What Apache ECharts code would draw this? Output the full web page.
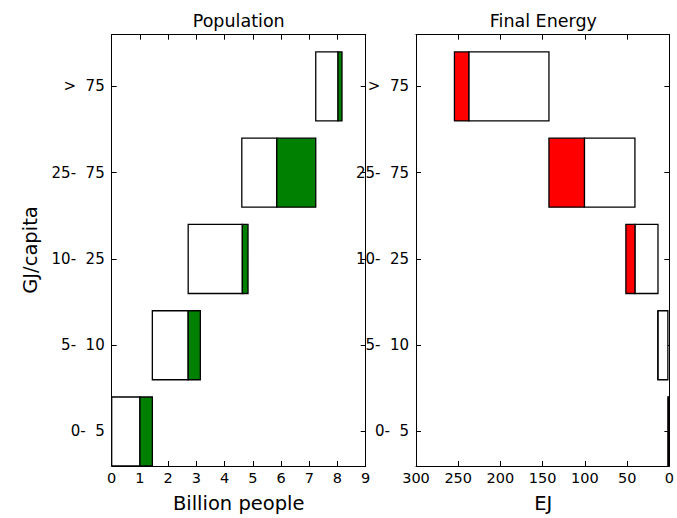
<!DOCTYPE html>
<html>
<head>
<meta charset="utf-8">
<script src="https://cdn.jsdelivr.net/npm/echarts@6/dist/echarts.min.js"></script>
<style>html,body{margin:0;padding:0;background:#fff}#c{width:677px;height:518px}</style>
</head>
<body>
<div id="c"></div>
<script>
var categories = ['0-  5', '5-  10', '10-  25', '25-  75', '>  75'];
var popTicks = [0, 1, 2, 3, 4, 5, 6, 7, 8, 9];
var enTicks = [0, 50, 100, 150, 200, 250, 300];
// Population (billion people): white box start, white/green boundary, green end
var popStart = [0, 1.44, 2.71, 4.61, 7.23];
var popMid   = [1.0, 2.71, 4.63, 5.85, 8.02];
var popEnd   = [1.44, 3.14, 4.83, 7.23, 8.16];
// Final energy (EJ): white box start, white/red boundary, red end
var enStart = [0, 1.8, 13.5, 40.8, 142.6];
var enMid   = [0.6, 13.6, 40.8, 100.6, 237.5];
var enEnd   = [1.8, 13.6, 51.5, 142.6, 254.5];

var FONT = 'DejaVu Sans';
var catIdx = categories.map(function (c, i) { return i; });

function buildData(s, m, e) {
  return catIdx.map(function (i) { return [s[i], m[i], e[i], i]; });
}

function makeRender(color) {
  return function (params, api) {
    var y = api.value(3);
    var a = api.coord([api.value(0), y]);
    var b = api.coord([api.value(1), y]);
    var c = api.coord([api.value(2), y]);
    var h = api.size([0, 0.8])[1];
    function rect(p, q, fill) {
      var x0 = Math.min(p[0], q[0]);
      var w = Math.abs(q[0] - p[0]);
      return {
        type: 'rect',
        shape: { x: x0, y: p[1] - h / 2, width: w, height: h },
        style: { fill: fill, stroke: '#000', lineWidth: 1.3 }
      };
    }
    return { type: 'group', children: [rect(a, b, '#ffffff'), rect(b, c, color)] };
  };
}

var grids = [
  { left: 111.7, width: 254, top: 34.7, bottom: 52, show: false },
  { left: 416, width: 254.6, top: 34.7, bottom: 52, show: false }
];

function xAxes(gi, min, max, interval, inverse) {
  var common = {
    type: 'value', gridIndex: gi, min: min, max: max, interval: interval, inverse: inverse,
    splitLine: { show: false },
    axisLine: { show: true, onZero: false, lineStyle: { color: '#000', width: 1 } },
    axisTick: { show: true, inside: true, length: 5, lineStyle: { color: '#000', width: 1 } }
  };
  return [
    Object.assign({}, common, {
      position: 'bottom',
      axisLabel: { show: true, margin: 4, color: '#000', fontFamily: FONT, fontSize: 14.5 }
    }),
    Object.assign({}, common, { position: 'top', axisLabel: { show: false } })
  ];
}

function yAxes(gi) {
  var common = {
    type: 'value', gridIndex: gi, min: -0.4, max: 4.6,
    splitLine: { show: false },
    axisLine: { show: true, onZero: false, lineStyle: { color: '#000', width: 1 } },
    axisTick: { show: true, inside: true, length: 5, customValues: catIdx, lineStyle: { color: '#000', width: 1 } }
  };
  return [
    Object.assign({}, common, {
      position: 'left',
      axisLabel: {
        show: true, margin: 7, color: '#000', fontFamily: FONT, fontSize: 15,
        customValues: catIdx,
        formatter: function (v) { return categories[Math.round(v)]; }
      }
    }),
    Object.assign({}, common, { position: 'right', axisLabel: { show: false } })
  ];
}

var xs = xAxes(0, popTicks[0], popTicks[popTicks.length - 1], 1, false)
  .concat(xAxes(1, enTicks[0], enTicks[enTicks.length - 1], 50, true));
var ys = yAxes(0).concat(yAxes(1));

function txt(text, x, y, size, rot) {
  return {
    type: 'text', x: x, y: y, rotation: rot || 0,
    style: { text: text, fontFamily: FONT, fontSize: size, fill: '#000', align: 'center', verticalAlign: 'middle' }
  };
}

var chart = echarts.init(document.getElementById('c'), null, { renderer: 'svg' });
chart.setOption({
  animation: false,
  backgroundColor: '#fff',
  grid: grids,
  xAxis: xs,
  yAxis: ys,
  series: [
    {
      type: 'custom', xAxisIndex: 0, yAxisIndex: 0, clip: true,
      renderItem: makeRender('#008000'),
      encode: { x: [0, 1, 2], y: 3 },
      data: buildData(popStart, popMid, popEnd)
    },
    {
      type: 'custom', xAxisIndex: 2, yAxisIndex: 2, clip: true,
      renderItem: makeRender('#ff0000'),
      encode: { x: [0, 1, 2], y: 3 },
      data: buildData(enStart, enMid, enEnd)
    }
  ],
  graphic: [
    txt('Population', 238.7, 21, 17.5),
    txt('Final Energy', 543.3, 21, 17.5),
    txt('Billion people', 238.7, 503, 19.5),
    txt('EJ', 543.3, 503, 19.5),
    txt('GJ/capita', 30, 250, 19.5, Math.PI / 2)
  ]
});
</script>
</body>
</html>
